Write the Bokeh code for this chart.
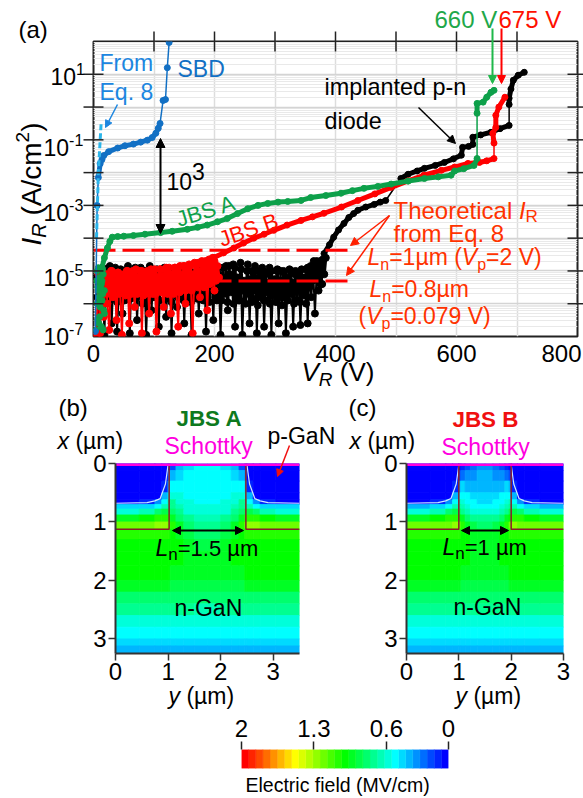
import math
from bokeh.plotting import figure
from bokeh.models import (Label, Arrow, NormalHead, FixedTicker,
                          LinearColorMapper, Range1d, ColumnDataSource)
from bokeh.embed import file_html
from bokeh.resources import INLINE

FONT = "Liberation Sans"

# ---- panel (a): reverse current, voltages in V, currents as log10(A/cm2)
black_noise_start, black_noise_step = 6, 3
black_noise = [
 -6.9,-5.0,-6.2,-4.9,-6.95,-5.1,-5.9,-4.85,-6.6,-5.2,-4.9,-6.85,-5.5,-4.95,-6.3,-5.0,-5.7,-4.85,-6.9,-5.1,
 -5.6,-4.9,-6.5,-5.3,-4.9,-6.0,-5.0,-6.95,-5.4,-4.85,-6.2,-5.0,-5.8,-4.95,-6.7,-5.1,-5.5,-4.9,-6.4,-5.2,
 -4.95,-6.9,-5.3,-5.0,-6.1,-4.9,-5.7,-5.05,-6.6,-5.0,-5.9,-4.95,-6.95,-5.2,-5.5,-5.0,-6.3,-5.05,-5.8,-5.0,
 -6.85,-5.1,-5.6,-5.05,-6.5,-5.0,-5.9,-5.1,-6.95,-5.2,-5.7,-4.85,-6.2,-5.1,-5.6,-4.8,-6.7,-5.2,-5.9,-4.75,
 -6.95,-5.3,-5.6,-4.8,-6.6,-5.0,-5.85,-4.85,-6.9,-5.2,-5.5,-4.9,-6.7,-5.1,-5.9,-4.9,-6.95,-5.3,-5.6,-5.0,
 -6.6,-5.0,-5.8,-5.05,-6.9,-5.25,-5.5,-5.0,-6.7,-5.1,-5.9,-5.05,-6.65,-5.2,-5.6,-4.95,-6.6,-5.0,-5.8,-4.95,
 -6.3,-5.0,-5.6,-4.7,-5.4,
]
black_band_start, black_band_step = 4, 2.5
black_band = [
 -5.2,-5.8,-5.1,-5.6,-5.3,-5.9,-5.0,-5.7,-5.2,-5.5,-5.85,-5.1,-5.6,-5.3,-5.95,-5.05,-5.75,-5.25,-5.5,-5.9,
 -5.15,-5.65,-5.35,-5.85,-5.05,-5.55,-5.2,-5.8,-5.1,-5.7,-5.3,-5.95,-5.0,-5.6,-5.25,-5.9,-5.15,-5.5,-5.8,-5.1,
 -5.7,-5.3,-5.9,-5.05,-5.6,-5.2,-5.85,-5.1,-5.55,-5.35,-5.95,-5.0,-5.7,-5.25,-5.8,-5.1,-5.6,-5.3,-5.9,-5.05,
 -5.75,-5.2,-5.5,-5.95,-5.1,-5.65,-5.3,-5.85,-5.0,-5.6,-5.25,-5.9,-5.1,-5.7,-5.35,-5.95,-5.05,-5.55,-5.2,-5.8,
 -4.95,-5.7,-5.3,-5.9,-4.9,-5.6,-5.2,-5.95,-4.85,-5.65,-5.3,-6.0,-4.9,-5.75,-5.2,-5.9,-4.95,-5.6,-5.35,-6.0,
 -5.0,-5.7,-5.25,-5.95,-5.05,-5.6,-5.3,-6.05,-5.0,-5.8,-5.2,-5.9,-5.05,-5.65,-5.35,-6.0,-5.0,-5.75,-5.25,-5.95,
 -4.95,-5.6,-5.3,-6.05,-5.0,-5.8,-5.2,-5.9,-4.95,-5.7,-5.35,-6.0,-5.0,-5.6,-5.25,-5.95,-4.95,-5.75,-5.2,-6.0,
 -4.9,-5.5,-4.85,-5.3,-4.7,-5.2,-4.7,-5.3,-4.8,-5.4,-4.65,-5.1,-4.6,
]
black_rise_v = [381,390,397,405,414,422,430,437,450,464,474,483, 508,520,535,547,565,580,595,608, 610,620,627, 627,640,657,672,687, 687,687,690,694,702,712]
black_rise   = [-4.47,-4.2,-3.97,-3.75,-3.55,-3.37,-3.25,-3.15,-3.05,-2.97,-2.9,-2.85, -2.18,-2.05,-1.95,-1.87,-1.78,-1.69,-1.58,-1.47, -1.23,-1.2,-1.14, -0.92,-0.85,-0.77,-0.66,-0.56, 0.08,0.27,0.55,0.82,0.97,1.06]
red_noise_start, red_noise_step = 5, 3
red_noise = [
 -6.95,-5.1,-6.9,-5.0,-6.4,-5.1,-6.0,-6.8,-5.0,-5.8,-5.1,-6.5,-5.05,-5.6,-6.95,-5.1,-5.7,-5.0,-6.6,-5.3,
 -5.0,-6.1,-5.2,-5.6,-5.0,-6.9,-5.15,-5.5,-5.0,-6.3,-5.1,-5.7,-4.95,-6.85,-5.2,-4.95,-5.6,-6.1,-4.95,-5.4,
 -4.9,-6.3,-5.1,-4.9,-5.6,-6.7,-4.85,-5.3,-4.85,-6.0,-5.0,-4.8,-5.5,-6.9,-4.75,-5.2,-4.75,-5.8,-4.7,-5.1,
 -4.7,-6.2,-4.65,-5.0,-4.6,-5.6,
]
red_band_start, red_band_step = 20, 2.5
red_band = [
 -5.1,-5.7,-5.2,-5.6,-5.0,-5.75,-5.3,-5.5,-5.05,-5.7,-5.15,-5.6,-5.25,-5.75,-5.0,-5.55,-5.2,-5.7,-5.1,-5.6,
 -4.95,-5.7,-5.2,-5.5,-5.0,-5.75,-5.15,-5.6,-5.25,-5.7,-4.95,-5.55,-5.1,-5.7,-5.2,-5.6,-4.95,-5.65,-5.15,-5.5,
 -4.9,-5.7,-5.1,-5.6,-5.2,-5.7,-4.9,-5.5,-5.05,-5.65,-5.15,-5.55,-4.85,-5.6,-5.0,-5.5,-4.85,-5.6,-5.1,-5.45,
 -4.8,-5.5,-5.0,-5.4,-4.8,-5.5,-4.95,-5.35,-4.75,-5.4,-4.85,-5.3,-4.7,-5.3,-4.85,-5.2,
]
red_rise_v = [199,215,232,248,265,282,298,320,343,362,381,410,437,465,492,520,546,575,597,619,638,650,662, 662,660,665,665,670,680]
red_rise   = [-4.59,-4.45,-4.3,-4.15,-4.0,-3.88,-3.76,-3.6,-3.46,-3.35,-3.24,-3.05,-2.85,-2.65,-2.45,-2.25,-2.08,-1.93,-1.83,-1.72,-1.69,-1.64,-1.57, -1.1,-0.8,-0.62,-0.25,0.0,0.3]
green_blob_v = [4,6,8,10,12,14,16,18,5,7,9,11,13,15,17,6,8,10,12,14,16,18,7,9,11,13,15]
green_blob   = [-6.8,-6.0,-5.6,-6.4,-5.2,-5.9,-6.8,-5.6,-5.3,-5.5,-5.8,-6.1,-5.4,-5.7,-6.2,-5.0,-4.9,-5.2,-5.5,-5.3,-5.1,-6.3,-6.5,-6.6,-5.9,-6.7,-4.95]
green_v = [14,18,23,27,31,40,50,66,85,111,130,155,172,188,205,221,238,255,272,288,305,321,343,359,384,409,428,447,470,492,520,547,570,591,597,612,629,634, 634,634,644,650,657,662]
green   = [-4.9,-4.6,-4.3,-4.1,-3.97,-3.95,-3.94,-3.92,-3.88,-3.83,-3.79,-3.73,-3.67,-3.6,-3.5,-3.4,-3.25,-3.1,-3.0,-2.94,-2.9,-2.88,-2.85,-2.76,-2.7,-2.63,-2.55,-2.48,-2.42,-2.35,-2.26,-2.18,-2.13,-2.08,-1.95,-1.88,-1.78,-1.57, -0.19,0.11,0.15,0.3,0.45,0.51]
blue_v = [3,6,8,11,14,17,25,40,52,66,78,89,97,103,107,110, 115,119, 122,125]
blue   = [-6.85,-3.0,-2.15,-1.73,-1.6,-1.48,-1.36,-1.25,-1.18,-1.13,-1.07,-1.01,-0.93,-0.8,-0.65,-0.5, 0.2,0.23, 1.2,1.97]
eq8_v = [5,8,12.7]
eq8   = [-4.0,-2.0,-0.46]
theory_v = [0,428]
theory_high = -4.37
theory_low = -5.31
x_major = [0,100,200,300,400,500,600,700,800]
decades = [-7,-6,-5,-4,-3,-2,-1,0,1,2]
y_tick_labels = [("10","1"),("10","-1"),("10","-3"),("10","-5"),("10","-7")]

# ---- panels (b),(c): field in MV/cm; columns mirrored about the centre
depth_edges = [0,.12,.3,.5,.62,.7,.78,.88,1.0,1.125,1.3,1.5,1.75,2,2.2,2.4,2.6,2.8,3,3.12,3.25]
b_half_edges = [0,.45,.75,.88,1.0,1.04,1.15,1.3,1.5,1.75]
c_half_edges = [0,.45,.75,.88,1.0,1.04,1.12,1.22,1.35,1.5]
field_b = [
 [0,0,0,0,.1,.18,.36,.47,.5],
 [0,0,0,0,.28,.36,.46,.5,.5],
 [0,0,0,.1,.48,.54,.5,.5,.5],
 [0,0,.02,.35,.6,.62,.56,.52,.51],
 [.05,.1,.3,.5,.7,.7,.6,.56,.54],
 [.42,.45,.55,.65,.75,.75,.65,.58,.56],
 [.62,.68,.76,.84,.88,.8,.7,.62,.6],
 [.95,1.0,1.05,1.1,1.05,.92,.78,.7,.65],
 [1.2,1.22,1.25,1.28,1.2,1.05,.9,.78,.72],
 [1.06,1.07,1.09,1.1,1.08,1.03,.95,.87,.82],
 [1.01,1.01,1.01,1.02,1.02,1.0,.97,.92,.88],
 [1.0,1.0,1.0,1.0,1.0,1.0,.98,.94,.92],
 [.97,.97,.97,.97,.97,.96,.94,.92,.91],
 [.9,.9,.9,.9,.9,.89,.87,.85,.84],
 [.82,.82,.82,.82,.82,.81,.8,.78,.77],
 [.72,.72,.72,.72,.72,.71,.7,.69,.68],
 [.62,.62,.62,.62,.62,.62,.61,.61,.6],
 [.53,.53,.53,.53,.53,.53,.53,.53,.53],
 [.46,.46,.46,.46,.46,.46,.46,.46,.46],
 [.38,.38,.38,.38,.38,.38,.38,.38,.38],
]
field_c = [
 [0,0,0,0,.05,.1,.15,.25,.3],
 [0,0,0,0,.2,.25,.28,.33,.35],
 [0,0,0,.1,.4,.42,.4,.4,.4],
 [0,0,.02,.35,.55,.55,.5,.45,.43],
 [.05,.1,.3,.5,.65,.62,.55,.5,.47],
 [.4,.45,.55,.65,.72,.68,.6,.55,.52],
 [.62,.68,.76,.84,.85,.75,.68,.62,.6],
 [.95,1.0,1.05,1.1,1.02,.9,.78,.72,.7],
 [1.18,1.2,1.23,1.26,1.18,1.05,.92,.85,.8],
 [1.05,1.06,1.08,1.09,1.07,1.03,.98,.93,.9],
 [1.01,1.01,1.01,1.02,1.02,1.0,.98,.96,.94],
 [1.0,1.0,1.0,1.0,1.0,1.0,.98,.96,.95],
 [.97,.97,.97,.97,.97,.96,.95,.93,.92],
 [.9,.9,.9,.9,.9,.89,.88,.87,.86],
 [.82,.82,.82,.82,.82,.81,.81,.8,.8],
 [.72,.72,.72,.72,.72,.71,.71,.71,.7],
 [.62,.62,.62,.62,.62,.62,.61,.61,.61],
 [.53,.53,.53,.53,.53,.53,.53,.53,.53],
 [.46,.46,.46,.46,.46,.46,.46,.46,.46],
 [.38,.38,.38,.38,.38,.38,.38,.38,.38],
]
contour_y = [0,.6,.75,.85,.95,1.0]
contour_depth = [.68,.67,.64,.6,.35,.02]
palette = ["#0000FF","#0024FF","#0048FF","#006DFF","#0091FF","#00B6FF","#00DAFF","#00FFFF","#00FFDA","#00FFB6",
           "#00FF91","#00FF6D","#00FF48","#00FF24","#00FF00","#24FF00","#48FF00","#6DFF00","#91FF00","#B6FF00",
           "#DAFF00","#FFFF00","#FFDA00","#FFB600","#FF9100","#FF6D00","#FF4800","#FF2400","#FF0000"]
mapper = LinearColorMapper(palette=palette, low=0, high=2)
cbar_ticks = [2,1.3,.6,0]

ADV = dict(zip("abcdefghijklmnopqrstuvwxyz", [556,556,500,556,556,278,556,556,222,222,500,222,833,556,556,556,556,333,500,278,556,500,722,500,500,500]))
ADV.update(dict(zip("ABCDEFGHIJKLMNOPQRSTUVWXYZ", [667,667,722,722,667,611,778,722,278,500,667,556,833,722,778,667,778,722,667,611,722,667,944,667,667,611])))
ADV.update({" ":278,"(":333,")":333,"/":278,"=":584,".":278,"-":333,"µ":576})
def adv(s, size, style="normal"):
    k = 1.05 if style == "bold" else 1.0
    return sum(ADV.get(ch, 556) for ch in s) * size / 1000 * k

def place(left, top):
    return {"position": "absolute", "left": f"{left}px", "top": f"{top}px"}

# transparent sheet over the whole page, in page pixels: holds all captions and pointers
ov = figure(width=583, height=798, x_range=Range1d(0, 583), y_range=Range1d(798, 0), toolbar_location=None,
            output_backend="svg", min_border=0, x_axis_type=None, y_axis_type=None, outline_line_color=None,
            background_fill_color=None, border_fill_color=None, styles=place(0, 0))
ov.grid.visible = False

LIFT = 0.27  # the label's baseline sits this fraction of the font size below the requested y
def rich(x, y, parts, color="black", angle=0):
    c, s_ = math.cos(math.radians(angle)), math.sin(math.radians(angle))
    pos = 0
    for text, sz, style, up in parts:
        shown = text.lstrip(" ")
        pos += adv(text[:len(text) - len(shown)], sz, style)
        up2 = up + LIFT * sz
        px = x + pos * c - up2 * s_
        py = y - pos * s_ - up2 * c
        ov.add_layout(Label(x=px, y=py, text=shown, text_font=FONT, text_font_size=f"{sz}px",
                            text_font_style=style, text_color=color, angle=angle, angle_units="deg",
                            text_align="left", text_baseline="alphabetic"))
        pos += adv(shown, sz, style)

def T(text, size=23, style="normal", up=0):
    return (text, size, style, up)

def arrow(x0, y0, x1, y1, color, width=1.5, size=9, both=False):
    head = NormalHead(size=size, fill_color=color, line_color=color)
    start = NormalHead(size=size, fill_color=color, line_color=color) if both else None
    ov.add_layout(Arrow(end=head, start=start, x_start=x0, y_start=y0, x_end=x1, y_end=y1,
                        line_color=color, line_width=width))

# ================= panel (a)
pa = figure(width=575, height=382, x_range=Range1d(0, 800), y_range=Range1d(1e-7, 1e2), y_axis_type="log",
            toolbar_location=None, output_backend="svg", min_border_left=85, min_border_right=6,
            min_border_top=33, min_border_bottom=54, outline_line_color="#222222", outline_line_width=2,
            background_fill_color="white", styles=place(8, 8))
dec_ticks = [10.0 ** d for d in decades]
minor = [10.0 ** d * m for d in decades[:-1] for m in range(2, 10)]
pa.ygrid.ticker = FixedTicker(ticks=dec_ticks, minor_ticks=minor)
pa.ygrid.grid_line_color = "#d4d4d4"
pa.ygrid.grid_line_width = 1.5
pa.ygrid.minor_grid_line_color = "#e9e9e9"
pa.ygrid.minor_grid_line_width = 1
pa.xgrid.ticker = FixedTicker(ticks=x_major)
pa.xgrid.grid_line_color = "#dddddd"
pa.xgrid.grid_line_width = 1.5

xax = pa.xaxis[0]
xax.ticker = FixedTicker(ticks=x_major[:-1:2])
xax.major_tick_line_color = None
xax.minor_tick_line_color = None
xax.axis_line_color = None
xax.major_label_text_font = FONT
xax.major_label_text_font_size = "24px"
xax.major_label_text_color = "black"
xax.major_label_standoff = 2
pa.yaxis[0].visible = False

TICK = "#222222"
pa.scatter(x_major[1:-1], [1e2] * 7, marker="dash", size=20, angle=math.pi / 2, line_color=TICK, line_width=1.5, level="overlay")
pa.scatter([800] * 8, dec_ticks[1:-1], marker="dash", size=20, line_color=TICK, line_width=1.5, level="overlay")
pa.scatter([0] * 8, dec_ticks[1:-1], marker="dash", size=20, line_color=TICK, line_width=1.5, level="overlay")

def p10(vals):
    return [10.0 ** v for v in vals]

def curve(v, lg, color, thin=1.5, thick=5, size=6, jump=0.45):
    pa.line(v, p10(lg), line_color=color, line_width=thin)
    run_v, run_l = [v[0]], [lg[0]]
    for i in range(1, len(v)):
        if abs(lg[i] - lg[i - 1]) > jump:
            if len(run_v) > 1:
                pa.line(run_v, p10(run_l), line_color=color, line_width=thick, line_cap="round")
            run_v, run_l = [], []
        run_v.append(v[i]); run_l.append(lg[i])
    if len(run_v) > 1:
        pa.line(run_v, p10(run_l), line_color=color, line_width=thick, line_cap="round")
    pa.scatter(v, p10(lg), size=size, fill_color=color, line_color=color)

bn_v = [black_noise_start + i * black_noise_step for i in range(len(black_noise))]
bb_v = [black_band_start + i * black_band_step for i in range(len(black_band))]
rn_v = [red_noise_start + i * red_noise_step for i in range(len(red_noise))]
rb_v = [red_band_start + i * red_band_step for i in range(len(red_band))]
pa.line(bn_v, p10(black_noise), line_color="black", line_width=2)
pa.scatter(bn_v, p10(black_noise), size=7, fill_color="black", line_color="black")
pa.line(bb_v, p10(black_band), line_color="black", line_width=3)
pa.scatter(bb_v, p10(black_band), size=7, fill_color="black", line_color="black")
curve(black_rise_v, black_rise, "black")
pa.line(theory_v, p10([theory_high] * 2), line_color="#FF0000", line_width=3, line_dash="22 7")
pa.line(theory_v, p10([theory_low] * 2), line_color="#FF0000", line_width=3, line_dash="22 7")
pa.line(rn_v, p10(red_noise), line_color="#FF0000", line_width=2)
pa.scatter(rn_v, p10(red_noise), size=7, fill_color="#FF0000", line_color="#FF0000")
pa.line(rb_v, p10(red_band), line_color="#FF0000", line_width=3)
pa.scatter(rb_v, p10(red_band), size=7, fill_color="#FF0000", line_color="#FF0000")
curve(rn_v[-1:] + red_rise_v, red_noise[-1:] + red_rise, "#FF0000")
pa.scatter(green_blob_v, p10(green_blob), size=6, fill_color="#0DA04A", line_color="#0DA04A")
curve(green_v, green, "#0DA04A")
curve(blue_v, blue, "#1270C4")
pa.line(eq8_v, p10(eq8), line_color="#2BB5EA", line_width=3, line_dash="6 3")

arrow(160, 138, 160, 233, "black", 2, 9, both=True)
arrow(418, 107, 455, 143, "black", 1.5, 8)
arrow(117, 104, 105, 127, "#1C86E0", 1.5, 7)
arrow(389, 215, 350, 245, "#FF2000", 1.5, 8)
arrow(389, 215, 346, 275, "#FF2000", 1.5, 8)
arrow(492, 28, 492, 83, "#1FB84A", 2, 8)
arrow(501, 28, 501, 83, "#FF0000", 2, 8)

RED = "#FF3300"
rich(18, 35, [T("(a)", 24)])
for (base, exp), lx, by in zip(y_tick_labels, [50, 43, 43, 43, 43], [82, 153, 218, 283, 342]):
    rich(lx, by, [T(base, 23), T(exp, 16, "normal", 9)])
rich(39, 245, [T("I", 28, "italic"), T("R", 20, "italic", -5), T(" (A/cm", 28), T("2", 19, "normal", 12), T(")", 28)], angle=90)
rich(301, 379, [T("V", 26, "italic"), T("R", 19, "italic", -5), T(" (V)", 26)])
rich(541, 359, [T("800", 24)])
rich(99, 69, [T("From")], color="#1C86E0")
rich(99, 98, [T("Eq. 8")], color="#1C86E0")
rich(177, 75, [T("SBD")], color="#1270C4")
rich(166, 187, [T("10"), T("3", 23, "normal", 10)])
rich(178, 225, [T("JBS A", 22)], color="#0DA04A", angle=17)
rich(221, 245, [T("JBS B", 22)], color="#FF1000", angle=19)
rich(324, 93, [T("implanted p-n", 23.4)])
rich(324, 127, [T("diode", 23.4)])
rich(434, 25, [T("660 V", 24)], color="#1FA84A")
rich(498, 25, [T("675 V", 24)], color="#FF1000")
rich(393, 216, [T("Theoretical ", 24), T("I", 24, "italic"), T("R", 17, "normal", -5)], color=RED)
rich(393, 239, [T("from Eq. 8", 24)], color=RED)
rich(367, 263, [T("L", 23, "italic"), T("n", 16, "normal", -5), T("=1µm (", 23), T("V", 23, "italic"), T("p", 16, "normal", -5), T("=2 V)", 23)], color=RED)
rich(369, 295, [T("L", 23, "italic"), T("n", 16, "normal", -5), T("=0.8µm", 23)], color=RED)
rich(358, 322, [T("(", 23), T("V", 23, "italic"), T("p", 16, "normal", -5), T("=0.079 V)", 23)], color=RED)

# ================= panels (b), (c)
def field_panel(width, canvas_left, left, right, xmax, half_edges, table, j1, j2, ticks):
    p = figure(width=width, height=326, x_range=Range1d(0, xmax), y_range=Range1d(3.25, 0), toolbar_location=None,
               output_backend="svg", min_border_left=left, min_border_right=right, min_border_top=73,
               min_border_bottom=63, outline_line_color=None, styles=place(canvas_left, 390))
    p.grid.visible = False
    l, r, t, b, v = [], [], [], [], []
    mirror = [xmax - e for e in reversed(half_edges)]
    cols = list(zip(half_edges[:-1], half_edges[1:]))
    cols_m = list(zip(mirror[:-1], mirror[1:]))
    for i, rowv in enumerate(table):
        for (a, c), val in list(zip(cols, rowv)) + list(zip(cols_m, reversed(rowv))):
            l.append(a); r.append(c); t.append(depth_edges[i]); b.append(depth_edges[i + 1]); v.append(val)
    src = ColumnDataSource(dict(l=l, r=r, t=t, b=b, v=v))
    p.quad(left="l", right="r", top="t", bottom="b", source=src,
           fill_color={"field": "v", "transform": mapper}, line_color={"field": "v", "transform": mapper}, line_width=0.8)
    p.line(contour_y, contour_depth, line_color="#CDE6FF", line_width=1.2)
    p.line([xmax - e for e in contour_y], contour_depth, line_color="#CDE6FF", line_width=1.2)
    JC = "#8B1A2A"
    p.line([0, j1, j1], [1.125, 1.125, 0], line_color=JC, line_width=1.5)
    p.line([xmax, j2, j2], [1.125, 1.125, 0], line_color=JC, line_width=1.5)
    p.line([0, xmax], [0, 0], line_color="#FF00E0", line_width=5)
    for ax_ in (p.xaxis[0], p.yaxis[0]):
        ax_.major_label_text_font = FONT
        ax_.major_label_text_font_size = "24px"
        ax_.major_label_text_color = "black"
        ax_.major_tick_in = 0
        ax_.major_tick_out = 7
        ax_.major_tick_line_color = "#333333"
        ax_.major_tick_line_width = 1.5
        ax_.minor_tick_line_color = None
        ax_.axis_line_color = "#333333"
        ax_.axis_line_width = 2
        ax_.major_label_standoff = 2
    p.xaxis[0].ticker = FixedTicker(ticks=ticks)
    p.yaxis[0].ticker = FixedTicker(ticks=[0, 1, 2, 3])
    return p

pb = field_panel(328, 8, 107, 37, 3.5, b_half_edges, field_b, 1.02, 2.48, [0, 1, 2, 3])
pc = field_panel(247, 336, 70, 20, 3.0, c_half_edges, field_c, 1.0, 2.0, [0, 1, 2, 3])

arrow(172, 530, 243, 530, "black", 2, 8, both=True)
arrow(289, 445, 277, 476, "#F01010", 1.5, 7)
rich(58, 413, [T("(b)", 24)])
rich(176, 424, [T("JBS A", 22.4, "bold")], color="#0E7A1E")
rich(57, 447, [T("x", 23, "italic"), T(" (µm)", 23)])
rich(164, 452, [T("Schottky", 23)], color="#FF00E0")
rich(267, 442, [T("p-GaN", 23)])
rich(155, 554, [T("L", 23, "italic"), T("n", 17, "normal", -5), T("=1.5 µm", 22)])
rich(174, 614, [T("n-GaN", 23)])
rich(168, 702, [T("y", 23, "italic"), T(" (µm)", 23)])

arrow(461, 530, 508, 530, "black", 2, 8, both=True)
rich(348, 413, [T("(c)", 24)])
rich(452, 425, [T("JBS B", 22.4, "bold")], color="#F01010")
rich(349, 447, [T("x", 23, "italic"), T(" (µm)", 23)])
rich(441, 453, [T("Schottky", 23)], color="#FF00E0")
rich(442, 553, [T("L", 23, "italic"), T("n", 17, "normal", -5), T("=1 µm", 22)])
rich(453, 613, [T("n-GaN", 23)])
rich(455, 702, [T("y", 23, "italic"), T(" (µm)", 23)])

# ================= colour bar
pcb = figure(width=575, height=82, x_range=Range1d(2, 0), y_range=Range1d(0, 1), toolbar_location=None,
             output_backend="svg", min_border_left=233, min_border_right=135, min_border_top=30, min_border_bottom=30,
             outline_line_color=None, x_axis_location="above", y_axis_location=None, styles=place(8, 716))
pcb.grid.visible = False
n = len(palette)
pcb.quad(left=[2 * i / n for i in range(n)], right=[2 * (i + 1) / n for i in range(n)], bottom=0, top=1,
         fill_color=palette, line_color=palette, line_width=0.5)
a_ = pcb.xaxis[0]
a_.ticker = FixedTicker(ticks=cbar_ticks)
a_.major_label_overrides = {2: "2", 1.3: "1.3", 0.6: "0.6", 0: "0"}
a_.major_label_text_font = FONT
a_.major_label_text_font_size = "24px"
a_.major_label_text_color = "black"
a_.major_tick_in = 0
a_.major_tick_out = 8
a_.major_tick_line_color = "#222222"
a_.major_tick_line_width = 1.5
a_.minor_tick_line_color = None
a_.axis_line_color = None
a_.major_label_standoff = 5
rich(245, 790, [T("Electric field (MV/cm)", 19.5)])

open("out.html", "w").write(file_html([pa, pb, pc, pcb, ov], INLINE))
